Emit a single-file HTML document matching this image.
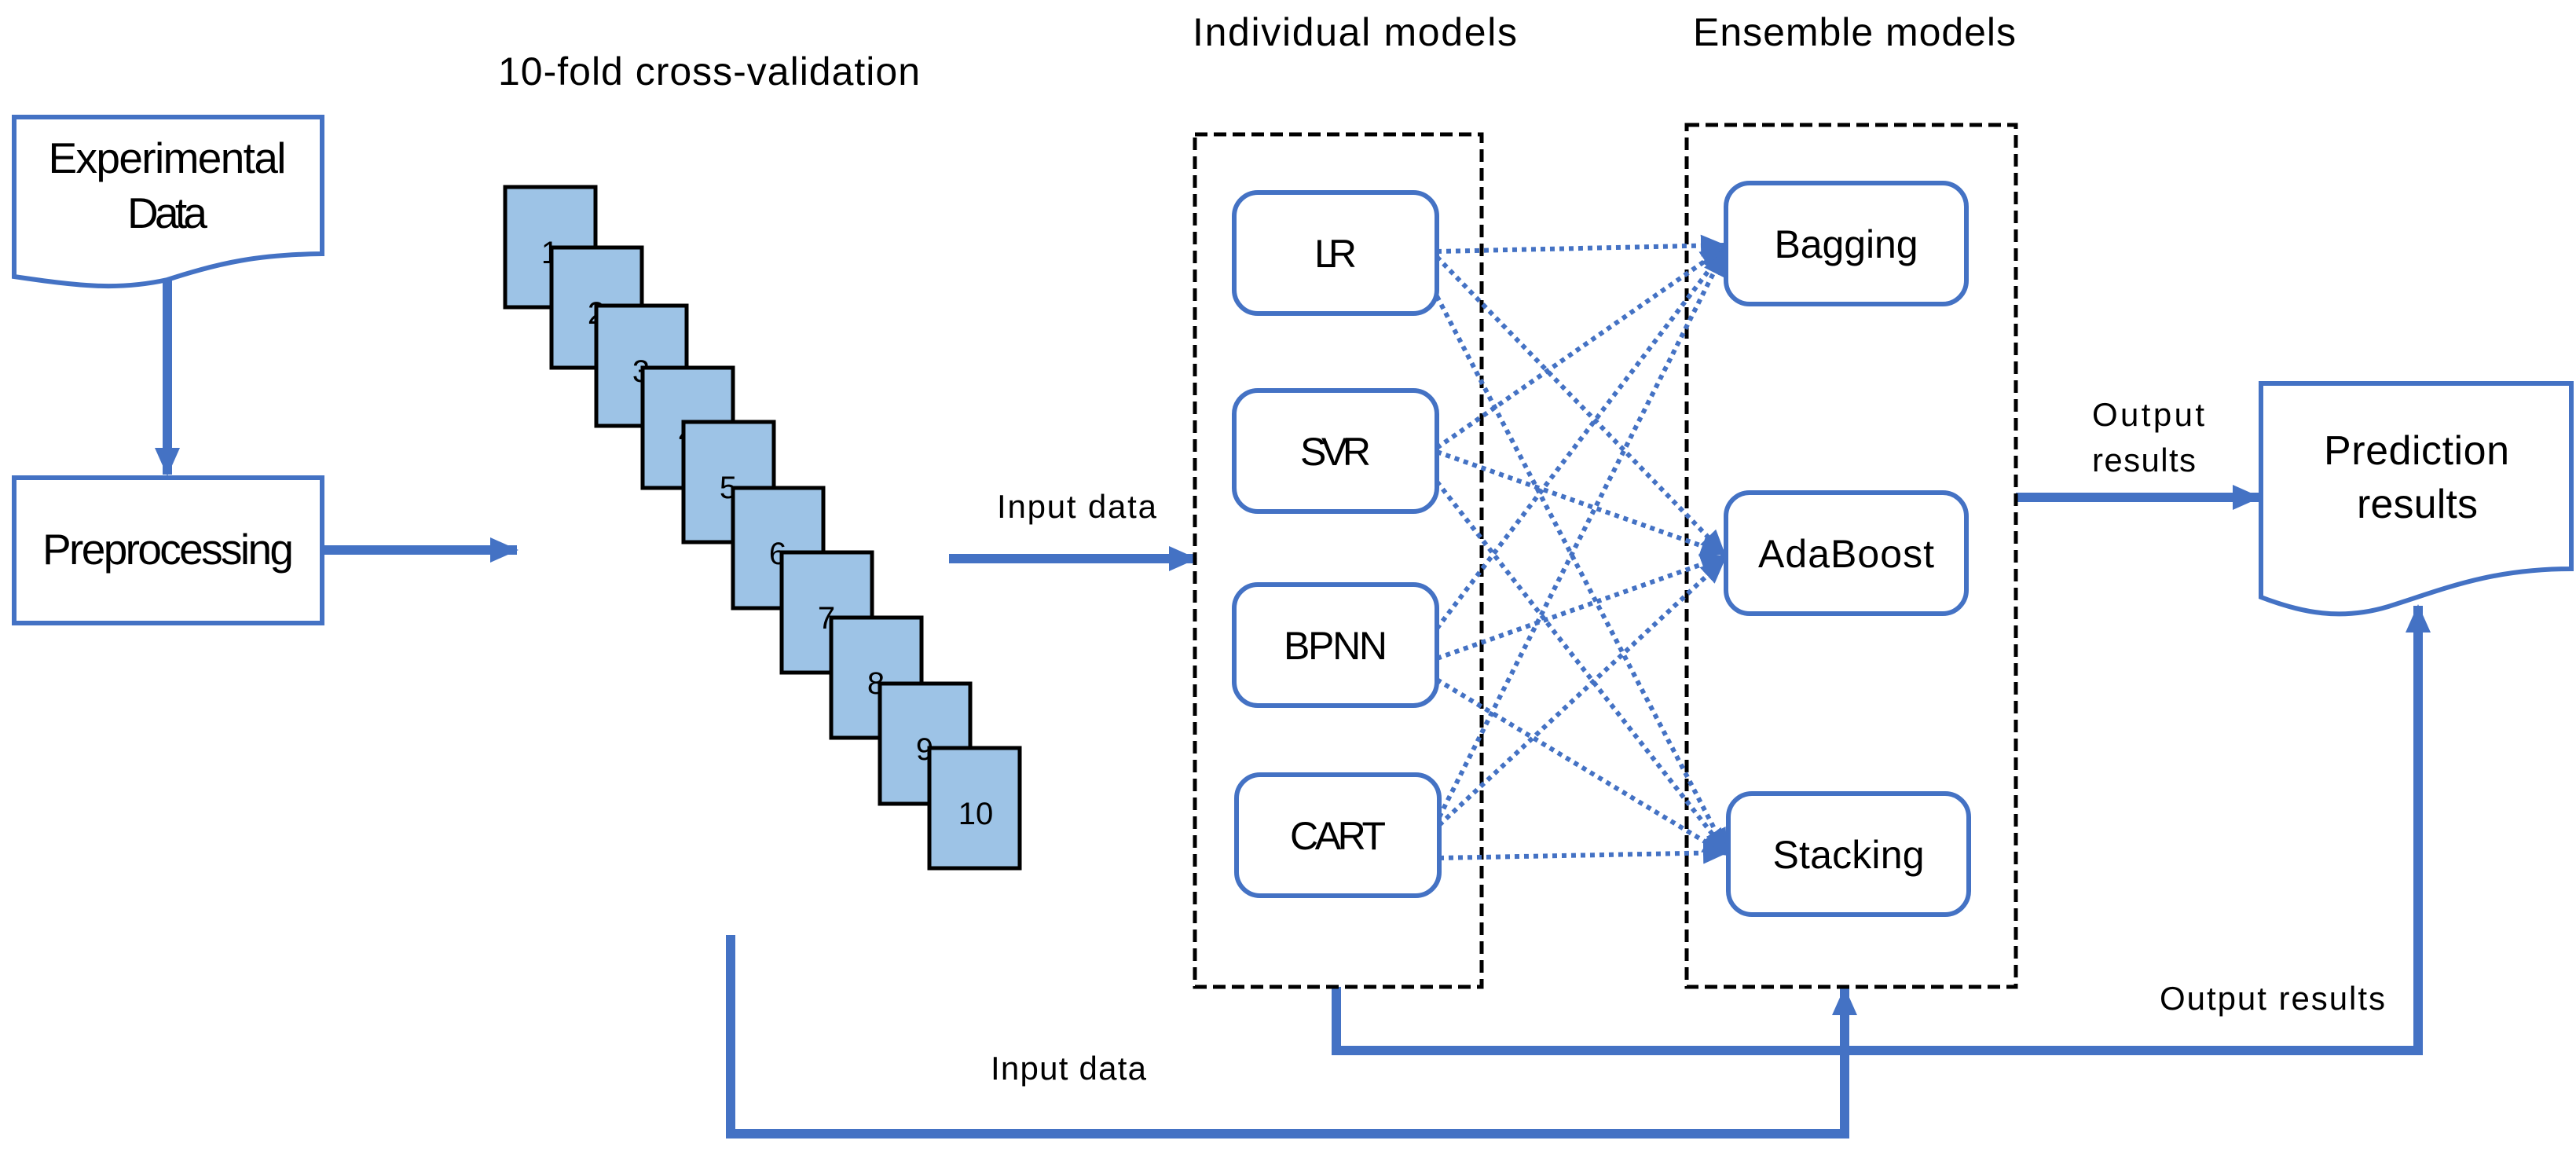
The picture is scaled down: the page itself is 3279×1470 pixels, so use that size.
<!DOCTYPE html>
<html><head><meta charset="utf-8"><style>
html,body{margin:0;padding:0;background:#fff}
svg{display:block}
text{font-family:"Liberation Sans Narrow","Liberation Sans",sans-serif;fill:#000}
</style></head><body>
<svg width="3279" height="1470" viewBox="0 0 3279 1470" xmlns="http://www.w3.org/2000/svg">
<defs>
<marker id="ah" markerUnits="userSpaceOnUse" markerWidth="40" markerHeight="40" refX="34" refY="20" orient="auto"><path d="M0,4 L36,20 L0,36 z" fill="#4472c4"/></marker>
<marker id="ad" markerUnits="userSpaceOnUse" markerWidth="36" markerHeight="36" refX="30" refY="18" orient="auto"><path d="M0,4 L32,18 L0,32 z" fill="#4472c4"/></marker>
</defs>
<g stroke="#4472c4" stroke-width="6" fill="#fff">
<path d="M18,149 H410 V323 C330,324 280,334 213,356 C150,370 100,364 18,352 Z"/>
<rect x="18" y="608" width="392" height="185"/>
<path d="M2878,488 H3273 V724 C3170,724 3110,750 3040,772 C2980,790 2930,780 2878,760 Z"/>
</g>
<text x="213" y="220" font-size="55" text-anchor="middle" textLength="303">Experimental</text>
<text x="213" y="290" font-size="55" text-anchor="middle" textLength="102">Data</text>
<text x="214" y="718" font-size="55" text-anchor="middle" textLength="320">Preprocessing</text>
<text x="634" y="108" font-size="50" textLength="537">10-fold cross-validation</text>
<g stroke="#4472c4" stroke-width="12" fill="none">
<line x1="213" y1="356" x2="213" y2="604" marker-end="url(#ah)"/>
<line x1="410" y1="700" x2="658" y2="700" marker-end="url(#ah)"/>
<line x1="1208" y1="711" x2="1522" y2="711" marker-end="url(#ah)"/>
<line x1="2566" y1="633" x2="2876" y2="633" marker-end="url(#ah)"/>
<polyline points="930,1190 930,1443 2348,1443 2348,1258" marker-end="url(#ah)"/>
<polyline points="1701,1256 1701,1337 3078,1337 3078,771" marker-end="url(#ah)"/>
</g>
<g stroke="#000" stroke-width="5" fill="#9dc3e6" font-size="40">
<rect x="643" y="238" width="115" height="153"/><text x="700" y="335" text-anchor="middle" stroke="none">1</text>
<rect x="702" y="315" width="115" height="153"/><text x="759" y="412" text-anchor="middle" stroke="none">2</text>
<rect x="759" y="389" width="115" height="153"/><text x="816" y="486" text-anchor="middle" stroke="none">3</text>
<rect x="818" y="468" width="115" height="153"/><text x="875" y="565" text-anchor="middle" stroke="none">4</text>
<rect x="870" y="537" width="115" height="153"/><text x="927" y="634" text-anchor="middle" stroke="none">5</text>
<rect x="933" y="621" width="115" height="153"/><text x="990" y="718" text-anchor="middle" stroke="none">6</text>
<rect x="995" y="703" width="115" height="153"/><text x="1052" y="800" text-anchor="middle" stroke="none">7</text>
<rect x="1058" y="786" width="115" height="153"/><text x="1115" y="883" text-anchor="middle" stroke="none">8</text>
<rect x="1120" y="870" width="115" height="153"/><text x="1177" y="967" text-anchor="middle" stroke="none">9</text>
<rect x="1183" y="952" width="115" height="153"/><text x="1242" y="1049" text-anchor="middle" stroke="none">10</text>
</g>
<g stroke="#000" stroke-width="5" fill="none" stroke-dasharray="16 8">
<rect x="1521" y="171" width="365" height="1085"/>
<rect x="2147" y="159" width="419" height="1097"/>
</g>
<text x="1518" y="58" font-size="50" textLength="413">Individual models</text>
<text x="2155" y="58" font-size="50" textLength="411">Ensemble models</text>
<text x="1269" y="659" font-size="42" textLength="203">Input data</text>
<text x="1261" y="1374" font-size="42" textLength="198">Input data</text>
<text x="2663" y="542" font-size="42" textLength="143">Output</text>
<text x="2663" y="600" font-size="42" textLength="132">results</text>
<text x="2749" y="1285" font-size="42" textLength="287">Output results</text>
<text x="3076" y="591" font-size="52" text-anchor="middle" textLength="236">Prediction</text>
<text x="3077" y="659" font-size="52" text-anchor="middle" textLength="154">results</text>
<g stroke="#4472c4" stroke-width="6" stroke-dasharray="6 6" fill="none">
<line x1="1829" y1="320" x2="2195" y2="312" marker-end="url(#ad)"/>
<line x1="1829" y1="327" x2="2195" y2="705" marker-end="url(#ad)"/>
<line x1="1829" y1="377" x2="2198" y2="1085" marker-end="url(#ad)"/>
<line x1="1829" y1="570" x2="2195" y2="315" marker-end="url(#ad)"/>
<line x1="1829" y1="575" x2="2195" y2="705" marker-end="url(#ad)"/>
<line x1="1829" y1="613" x2="2198" y2="1085" marker-end="url(#ad)"/>
<line x1="1829" y1="800" x2="2195" y2="318" marker-end="url(#ad)"/>
<line x1="1829" y1="838" x2="2195" y2="708" marker-end="url(#ad)"/>
<line x1="1829" y1="865" x2="2198" y2="1088" marker-end="url(#ad)"/>
<line x1="1832" y1="1040" x2="2195" y2="320" marker-end="url(#ad)"/>
<line x1="1832" y1="1050" x2="2195" y2="712" marker-end="url(#ad)"/>
<line x1="1832" y1="1092" x2="2198" y2="1085" marker-end="url(#ad)"/>
</g>
<g stroke="#4472c4" stroke-width="6" fill="#fff">
<rect x="1571" y="245" width="258" height="154" rx="30"/>
<rect x="1571" y="497" width="258" height="154" rx="30"/>
<rect x="1571" y="744" width="258" height="154" rx="30"/>
<rect x="1574" y="986" width="258" height="154" rx="30"/>
<rect x="2197" y="233" width="306" height="154" rx="30"/>
<rect x="2197" y="627" width="306" height="154" rx="30"/>
<rect x="2200" y="1010" width="306" height="154" rx="30"/>
</g>
<g font-size="50" text-anchor="middle">
<text x="1700" y="340" textLength="54">LR</text>
<text x="1700" y="592" textLength="90">SVR</text>
<text x="1700" y="839" textLength="132">BPNN</text>
<text x="1703" y="1081" textLength="122">CART</text>
<text x="2350" y="328" textLength="183">Bagging</text>
<text x="2350" y="722" textLength="224">AdaBoost</text>
<text x="2353" y="1105" textLength="193">Stacking</text>
</g>
</svg>
</body></html>
